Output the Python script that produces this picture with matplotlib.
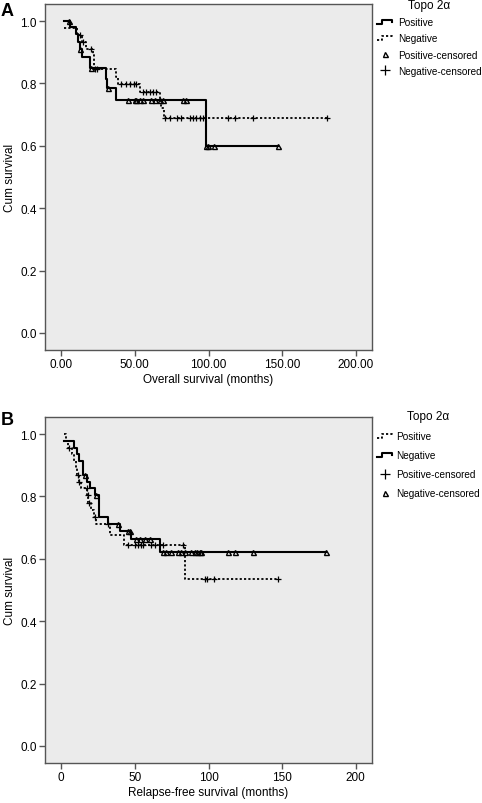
import numpy as np
import matplotlib
matplotlib.use("Agg")
import matplotlib.pyplot as plt
from matplotlib.lines import Line2D
from matplotlib.legend_handler import HandlerBase

plt.rcParams['font.family'] = ['Liberation Sans', 'DejaVu Sans']

# ---------------- Panel A: overall survival ----------------
A_pos_t = [2.0, 5.7, 10.2, 11.3, 12.5, 14.3, 19.3, 30.6, 31.3, 37.4, 98.0]
A_pos_s = [1.0, 0.980, 0.958, 0.933, 0.910, 0.884, 0.851, 0.814, 0.784, 0.748, 0.598]
A_pos_end = 147.0
A_pos_cens = [5.0, 13.1, 20.4, 32.0, 45.3, 49.9, 51.0, 53.3, 55.5, 61.2, 63.5, 66.9,
              69.1, 82.7, 84.5, 98.5, 99.7, 103.6, 147.0]

A_neg_t = [2.0, 10.4, 14.0, 17.0, 21.5, 22.0, 22.5, 37.4, 38.5, 53.3, 66.9, 68.0, 69.5]
A_neg_s = [0.977, 0.955, 0.933, 0.912, 0.890, 0.867, 0.846, 0.820, 0.798, 0.772, 0.747, 0.720, 0.688]
A_neg_end = 180.3
A_neg_cens = [12.5, 14.7, 20.0, 22.8, 24.5, 40.8, 44.2, 46.9, 49.2, 51.0, 55.5, 57.8, 60.1,
              62.4, 64.6, 70.3, 73.7, 78.6, 81.6, 87.3, 89.5, 91.8, 94.1, 96.3, 113.3,
              117.9, 129.9, 180.3]

# ---------------- Panel B: relapse-free survival ----------------
B_pos_t = [2.0, 3.0, 4.5, 7.0, 8.5, 10.0, 11.0, 12.0, 13.5, 17.8, 18.5, 20.0, 22.0, 23.5,
           33.0, 42.4, 84.0]
B_pos_s = [1.0, 0.978, 0.957, 0.935, 0.913, 0.891, 0.870, 0.848, 0.826, 0.804, 0.780,
           0.757, 0.733, 0.712, 0.678, 0.644, 0.536]
B_pos_end = 147.3
B_pos_cens = [5.6, 11.3, 12.4, 17.4, 18.1, 18.8, 22.7, 31.5, 45.3, 49.9, 52.1, 54.4, 55.5,
              61.2, 63.5, 69.1, 82.7, 97.5, 99.1, 103.6, 147.3]

B_neg_t = [2.0, 9.0, 10.6, 12.4, 14.7, 17.4, 19.3, 22.7, 25.6, 31.7, 39.7, 47.6, 66.9]
B_neg_s = [0.978, 0.957, 0.935, 0.913, 0.870, 0.848, 0.826, 0.805, 0.733, 0.711, 0.689,
           0.665, 0.622]
B_neg_end = 179.8
B_neg_cens = [16.0, 23.5, 38.6, 45.3, 47.0, 51.0, 53.3, 56.7, 60.1, 69.1, 71.4, 74.8, 79.3,
              81.6, 83.9, 88.4, 90.7, 92.2, 94.1, 95.2, 113.3, 117.9, 129.9, 179.8]

A_xticks = [0, 50, 100, 150, 200]
A_xticklabels = ["0.00", "50.00", "100.00", "150.00", "200.00"]
B_xticklabels = ["0", "50", "100", "150", "200"]
y_ticks = [0.0, 0.2, 0.4, 0.6, 0.8, 1.0]
legend_labels = ["Positive", "Negative", "Positive-censored", "Negative-censored"]

SOLID = dict(color='black', lw=1.5, linestyle='-')
DOTTED = dict(color='black', lw=1.3, linestyle=(0, (1.2, 1.2)))
TRI = dict(marker='^', ms=3.6, mfc='none', mec='black', mew=1.0, linestyle='none')
PLUS = dict(marker='+', ms=4.6, mec='black', mew=0.9, linestyle='none')
PLUS_LEG = dict(marker='+', ms=6.5, mec='black', mew=0.9, linestyle='none')


def level_at(times, levels, x):
    idx = np.searchsorted(np.asarray(times), np.asarray(x), side='right') - 1
    idx = np.clip(idx, 0, len(levels) - 1)
    return np.asarray(levels)[idx]


def draw_km(ax, t, s, end, cens, line_style, mark_style):
    tt = list(t) + [end]
    ss = list(s) + [s[-1]]
    ax.step(tt, ss, where='post', **line_style)
    ax.plot(cens, level_at(t, s, cens), **mark_style)


class StepHandler(HandlerBase):
    def __init__(self, style):
        super().__init__()
        self.style = style

    def create_artists(self, legend, orig_handle, xdescent, ydescent, width, height,
                       fontsize, trans):
        x0 = -xdescent
        y0 = -ydescent
        xs = [x0, x0 + 0.35 * width, x0 + 0.35 * width, x0 + width, x0 + width]
        ys = [y0 + 0.2 * height, y0 + 0.2 * height, y0 + 0.75 * height,
              y0 + 0.75 * height, y0 + 0.45 * height]
        ln = Line2D(xs, ys, transform=trans, **self.style)
        return [ln]


fig = plt.figure(figsize=(4.82, 8.04), dpi=100)
W, H = 482.0, 804.0
axA = fig.add_axes([45 / W, 1 - 351 / H, 327 / W, 346 / H])
axB = fig.add_axes([45 / W, 1 - 764 / H, 327 / W, 346 / H])

for ax in (axA, axB):
    ax.set_facecolor('#EBEBEB')
    ax.set_xlim(-11, 211)
    ax.set_ylim(-0.055, 1.055)
    ax.set_yticks(y_ticks)
    ax.set_yticklabels([f"{v:.1f}" for v in y_ticks])
    ax.set_xticks(A_xticks)
    for sp in ax.spines.values():
        sp.set_color('#555555')
        sp.set_linewidth(1.0)
    ax.tick_params(direction='out', length=4, width=1.0, color='#555555',
                   labelsize=8.5, pad=2)
    ax.set_ylabel("Cum survival", fontsize=8.5, labelpad=3)

axA.set_xticklabels(A_xticklabels)
axB.set_xticklabels(B_xticklabels)
axA.set_xlabel("Overall survival (months)", fontsize=8.5, labelpad=2)
axB.set_xlabel("Relapse-free survival (months)", fontsize=8.5, labelpad=2)

# Panel A: positive solid w/ triangles, negative dotted w/ plus
draw_km(axA, A_pos_t, A_pos_s, A_pos_end, A_pos_cens, SOLID, TRI)
draw_km(axA, A_neg_t, A_neg_s, A_neg_end, A_neg_cens, DOTTED, PLUS)
# Panel B: positive dotted w/ plus, negative solid w/ triangles
draw_km(axB, B_pos_t, B_pos_s, B_pos_end, B_pos_cens, DOTTED, PLUS)
draw_km(axB, B_neg_t, B_neg_s, B_neg_end, B_neg_cens, SOLID, TRI)

# Legends
hA = [Line2D([], [], **SOLID), Line2D([], [], **DOTTED),
      Line2D([], [], **TRI), Line2D([], [], **PLUS_LEG)]
hmapA = {hA[0]: StepHandler(SOLID), hA[1]: StepHandler(DOTTED)}
legA = fig.legend(hA, legend_labels, handler_map=hmapA, title="Topo 2\u03b1",
                  loc='upper left', bbox_to_anchor=(377 / W, 1 - 0 / H),
                  frameon=False, fontsize=7.2, title_fontsize=8.5,
                  handlelength=1.5, handletextpad=0.6, labelspacing=0.62,
                  borderpad=0, borderaxespad=0)

hB = [Line2D([], [], **DOTTED), Line2D([], [], **SOLID),
      Line2D([], [], **PLUS_LEG), Line2D([], [], **TRI)]
hmapB = {hB[0]: StepHandler(DOTTED), hB[1]: StepHandler(SOLID)}
legB = fig.legend(hB, legend_labels, handler_map=hmapB, title="Topo 2\u03b1",
                  loc='upper left', bbox_to_anchor=(377 / W, 1 - 411 / H),
                  frameon=False, fontsize=7.2, title_fontsize=8.5,
                  handlelength=1.5, handletextpad=0.4, labelspacing=0.9,
                  borderpad=0, borderaxespad=0)

fig.text(1 / W, 1 - 12 / H, "A", fontsize=13, fontweight='bold', va='center', ha='left')
fig.text(1 / W, 1 - 421 / H, "B", fontsize=13, fontweight='bold', va='center', ha='left')

fig.savefig("out.png", dpi=100)
